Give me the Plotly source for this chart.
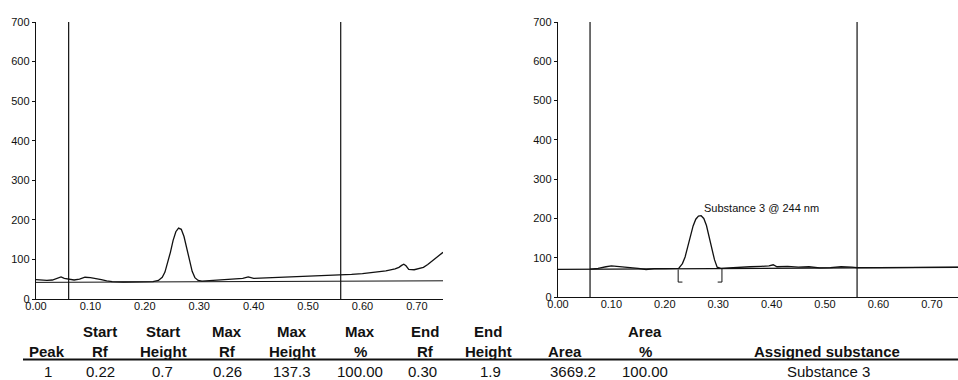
import plotly.graph_objects as go

# ---------------- data ----------------
# Left densitogram (track 1) : Rf vs intensity (AU)
left_rf = [0.000, 0.010, 0.020, 0.030, 0.040, 0.046, 0.052, 0.060, 0.070, 0.080, 0.090, 0.100,
           0.110, 0.120, 0.130, 0.140, 0.160, 0.180, 0.200, 0.215, 0.225, 0.232, 0.237, 0.242,
           0.247, 0.252, 0.257, 0.262, 0.267, 0.272, 0.277, 0.282, 0.287, 0.292, 0.298, 0.305,
           0.320, 0.340, 0.360, 0.380, 0.390, 0.400, 0.420, 0.440, 0.460, 0.480, 0.500, 0.520,
           0.540, 0.560, 0.580, 0.600, 0.620, 0.643, 0.660, 0.667, 0.672, 0.676, 0.680, 0.685,
           0.695, 0.703, 0.712, 0.720, 0.728, 0.736, 0.742, 0.748]
left_int = [49, 48, 47, 48, 53, 56, 52, 50, 48, 50, 55, 54,
            52, 49, 46, 44, 43, 43, 43, 44, 47, 55, 68, 90,
            118, 148, 170, 179, 176, 158, 128, 96, 70, 54, 47, 45,
            46, 48, 50, 52, 56, 52, 53, 54, 55, 56, 57, 58,
            59, 60, 62, 64, 67, 71, 76, 80, 85, 88, 84, 75,
            74, 77, 80, 87, 96, 104, 111, 118]
left_base_rf = [0.0, 0.748]
left_base_int = [42, 46]

# Right densitogram (track 2)
right_rf = [0.060, 0.075, 0.090, 0.100, 0.110, 0.120, 0.130, 0.150, 0.165, 0.180, 0.200, 0.215,
            0.226, 0.233, 0.238, 0.243, 0.248, 0.253, 0.258, 0.263, 0.268, 0.273, 0.278, 0.283,
            0.288, 0.293, 0.298, 0.305, 0.320, 0.340, 0.360, 0.380, 0.395, 0.403, 0.410, 0.430,
            0.450, 0.470, 0.490, 0.510, 0.530, 0.550, 0.560, 0.600, 0.650, 0.700, 0.749]
right_int = [71, 73, 77, 79, 78, 77, 75, 73, 70, 72, 72, 72,
             73, 85, 102, 128, 157, 181, 198, 206, 207, 200, 182, 154,
             122, 95, 76, 73, 74, 76, 77, 78, 79, 82, 77, 78,
             76, 77, 74, 75, 77, 76, 75, 75, 75, 76, 76]
right_base_rf = [0.0, 0.749]
right_base_int = [70.5, 75.5]

# Integration brackets of the assigned peak (Rf)
bracket_start_rf = 0.225
bracket_end_rf = 0.307
peak_label = "Substance 3 @ 244 nm"
peak_label_rf = 0.270
peak_label_int = 227

# Region limits (vertical lines)
region_rf = [0.06, 0.56]

x_ticks = [0.0, 0.1, 0.2, 0.3, 0.4, 0.5, 0.6, 0.7]
y_ticks = [0, 100, 200, 300, 400, 500, 600, 700]

# Peak table
header_row1 = ["", "Start", "Start", "Max", "Max", "Max", "End", "End", "", "Area", ""]
header_row2 = ["Peak", "Rf", "Height", "Rf", "Height", "%", "Rf", "Height", "Area", "%",
               "Assigned substance"]
table_row = ["1", "0.22", "0.7", "0.26", "137.3", "100.00", "0.30", "1.9", "3669.2", "100.00",
             "Substance 3"]

# ---------------- figure ----------------
W, H = 958, 380
FONT = "Liberation Sans, Arial, sans-serif"
INK = "#111111"

fig = go.Figure()

line_style = dict(color=INK, width=1.3)
fig.add_trace(go.Scatter(x=left_rf, y=left_int, mode="lines", line=line_style,
                         xaxis="x", yaxis="y", showlegend=False, hoverinfo="skip"))
fig.add_trace(go.Scatter(x=left_base_rf, y=left_base_int, mode="lines",
                         line=dict(color=INK, width=1), xaxis="x", yaxis="y",
                         showlegend=False, hoverinfo="skip"))
fig.add_trace(go.Scatter(x=right_rf, y=right_int, mode="lines", line=line_style,
                         xaxis="x2", yaxis="y2", showlegend=False, hoverinfo="skip"))
fig.add_trace(go.Scatter(x=right_base_rf, y=right_base_int, mode="lines",
                         line=dict(color=INK, width=1.2), xaxis="x2", yaxis="y2",
                         showlegend=False, hoverinfo="skip"))

# brackets
bw = 0.008
fig.add_trace(go.Scatter(x=[bracket_start_rf + bw, bracket_start_rf, bracket_start_rf],
                         y=[38, 38, 70], mode="lines", line=dict(color=INK, width=1),
                         xaxis="x2", yaxis="y2", showlegend=False, hoverinfo="skip"))
fig.add_trace(go.Scatter(x=[bracket_end_rf - bw, bracket_end_rf, bracket_end_rf],
                         y=[38, 38, 72], mode="lines", line=dict(color=INK, width=1),
                         xaxis="x2", yaxis="y2", showlegend=False, hoverinfo="skip"))

shapes = []
for xr, yr in (("x", "y"), ("x2", "y2")):
    for r in region_rf:
        shapes.append(dict(type="line", xref=xr, yref=yr, x0=r, x1=r, y0=0, y1=700,
                           line=dict(color=INK, width=1.2)))
# table rule
shapes.append(dict(type="line", xref="paper", yref="paper", x0=23 / W, x1=1.0,
                   y0=1 - 359.5 / H, y1=1 - 359.5 / H, line=dict(color=INK, width=2)))

annotations = [dict(x=peak_label_rf, y=peak_label_int, xref="x2", yref="y2", text=peak_label,
                    showarrow=False, xanchor="left", yanchor="middle",
                    font=dict(family=FONT, size=11, color=INK))]

header_x = [47, 100, 163, 227, 292, 360, 425, 488, 565, 645, 827]
data_x = [48, 100, 162, 227, 292, 360, 422, 490, 573, 645, 828]
for i, t in enumerate(header_row1):
    if t:
        annotations.append(dict(x=header_x[i] / W, y=1 - 331 / H, xref="paper", yref="paper",
                                text="<b>%s</b>" % t, showarrow=False, xanchor="center",
                                yanchor="middle", font=dict(family=FONT, size=15, color=INK)))
for i, t in enumerate(header_row2):
    annotations.append(dict(x=header_x[i] / W, y=1 - 351 / H, xref="paper", yref="paper",
                            text="<b>%s</b>" % t, showarrow=False, xanchor="center",
                            yanchor="middle", font=dict(family=FONT, size=15, color=INK)))
for i, t in enumerate(table_row):
    annotations.append(dict(x=data_x[i] / W, y=1 - 371 / H, xref="paper", yref="paper",
                            text=t, showarrow=False, xanchor="center", yanchor="middle",
                            font=dict(family=FONT, size=15, color=INK)))

xax = dict(tickvals=x_ticks, ticktext=["%.2f" % v for v in x_ticks], showgrid=False,
           zeroline=False, showline=True, linecolor=INK, linewidth=1.2, ticks="",
           automargin=False, ticklabelstandoff=-3,
           tickfont=dict(family=FONT, size=11, color=INK))
yax = dict(range=[0, 700], tickvals=y_ticks, showgrid=False, zeroline=False, showline=True,
           linecolor=INK, linewidth=1.2, ticks="outside", ticklen=3, tickcolor=INK,
           automargin=False,
           tickfont=dict(family=FONT, size=11, color=INK))

fig.update_layout(
    width=W, height=H,
    margin=dict(l=0, r=0, t=0, b=0, autoexpand=False),
    paper_bgcolor="white", plot_bgcolor="white",
    showlegend=False,
    hovermode=False,
    xaxis=dict(xax, domain=[36 / W, 443 / W], range=[0, 0.748], anchor="y"),
    yaxis=dict(yax, domain=[(H - 299) / H, (H - 22) / H], anchor="x"),
    xaxis2=dict(xax, domain=[558 / W, 1.0], range=[0, 0.749], anchor="y2"),
    yaxis2=dict(yax, domain=[(H - 297) / H, (H - 22) / H], anchor="x2"),
    shapes=shapes,
    annotations=annotations,
)

fig.write_html("out.html", config={"displayModeBar": False, "staticPlot": True},
               post_script="document.body.style.margin='0px';document.body.style.overflow='hidden';")
